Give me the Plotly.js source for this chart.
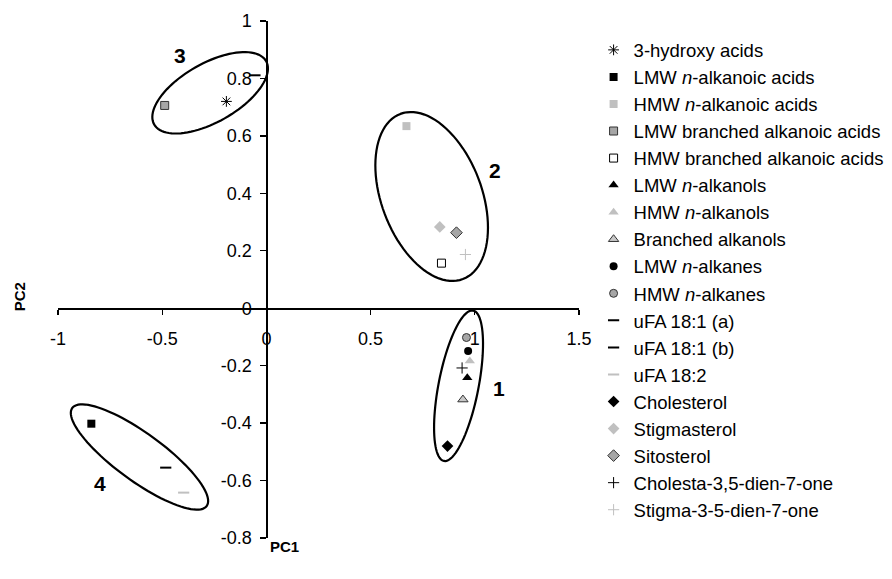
<!DOCTYPE html>
<html>
<head>
<meta charset="utf-8">
<script src="https://cdn.plot.ly/plotly-3.0.1.min.js"></script>
<style>html,body{margin:0;padding:0;background:#fff;}#chart{width:892px;height:579px;}</style>
</head>
<body>
<div id="chart"></div>
<script>
// ---- data ----
const seriesNames = [
  "3-hydroxy acids",
  "LMW <i>n</i>-alkanoic acids",
  "HMW <i>n</i>-alkanoic acids",
  "LMW branched alkanoic acids",
  "HMW branched alkanoic acids",
  "LMW <i>n</i>-alkanols",
  "HMW <i>n</i>-alkanols",
  "Branched alkanols",
  "LMW <i>n</i>-alkanes",
  "HMW <i>n</i>-alkanes",
  "uFA 18:1 (a)",
  "uFA 18:1 (b)",
  "uFA 18:2",
  "Cholesterol",
  "Stigmasterol",
  "Sitosterol",
  "Cholesta-3,5-dien-7-one",
  "Stigma-3-5-dien-7-one"
];
const pc1 = [-0.192, -0.840, 0.672, -0.488, 0.840, 0.964, 0.976, 0.943, 0.968, 0.960, -0.055, -0.483, -0.397, 0.869, 0.832, 0.912, 0.939, 0.955];
const pc2 = [0.720, -0.402, 0.634, 0.706, 0.157, -0.242, -0.184, -0.318, -0.149, -0.102, 0.811, -0.555, -0.642, -0.480, 0.283, 0.263, -0.208, 0.187];

const xTickVals = [-1, -0.5, 0, 0.5, 1, 1.5];
const xTickText = ["-1", "-0.5", "0", "0.5", "1", "1.5"];
const yTickVals = [-0.8, -0.6, -0.4, -0.2, 0, 0.2, 0.4, 0.6, 0.8, 1];
const yTickText = ["-0.8", "-0.6", "-0.4", "-0.2", "0", "0.2", "0.4", "0.6", "0.8", "1"];

const clusterLabels = ["1", "2", "3", "4"];
const clusterLabelX = [1.115, 1.096, -0.416, -0.797];
const clusterLabelY = [-0.279, 0.480, 0.881, -0.611];

// ---- styles ----
const BLACK = "#000000", LIGHT = "#c0c0c0", MID = "#a6a6a6";
const styles = [
  {symbol: "asterisk-open", color: BLACK, line: BLACK, lw: 1, size: 9},
  {symbol: "square", color: BLACK, line: BLACK, lw: 0, size: 8},
  {symbol: "square", color: LIGHT, line: LIGHT, lw: 0, size: 8},
  {symbol: "square", color: MID, line: "#333", lw: 1, size: 8},
  {symbol: "square", color: "#ffffff", line: BLACK, lw: 1, size: 8},
  {symbol: "triangle-up", color: BLACK, line: BLACK, lw: 0, size: 9},
  {symbol: "triangle-up", color: LIGHT, line: LIGHT, lw: 0, size: 9},
  {symbol: "triangle-up", color: "#c8c8c8", line: "#333", lw: 1, size: 9},
  {symbol: "circle", color: BLACK, line: BLACK, lw: 0, size: 8},
  {symbol: "circle", color: MID, line: "#333", lw: 1, size: 8},
  {symbol: "line-ew-open", color: BLACK, line: BLACK, lw: 2, size: 8},
  {symbol: "line-ew-open", color: BLACK, line: BLACK, lw: 2, size: 8},
  {symbol: "line-ew-open", color: LIGHT, line: LIGHT, lw: 2, size: 8},
  {symbol: "diamond", color: BLACK, line: BLACK, lw: 0, size: 9},
  {symbol: "diamond", color: LIGHT, line: LIGHT, lw: 0, size: 9},
  {symbol: "diamond", color: MID, line: "#333", lw: 1, size: 9},
  {symbol: "cross-thin-open", color: BLACK, line: BLACK, lw: 1, size: 8},
  {symbol: "cross-thin-open", color: LIGHT, line: LIGHT, lw: 1, size: 8}
];

const traces = seriesNames.map((name, i) => ({
  type: "scatter", mode: "markers",
  x: [pc1[i]], y: [pc2[i]], name: name,
  legendgroup: "g" + i,
  marker: {symbol: styles[i].symbol, color: styles[i].color, size: styles[i].size,
           line: {color: styles[i].line, width: styles[i].lw}},
  hoverinfo: "name"
}));

// ---- layout geometry ----
const W = 892, H = 579;
const M = {l: 58, r: 313, t: 21, b: 41, autoexpand: false};
const xRange = [-1, 1.5], yRange = [-0.8, 1];
const pxPerX = (W - M.l - M.r) / (xRange[1] - xRange[0]);
const pxPerY = (H - M.t - M.b) / (yRange[1] - yRange[0]);

// ellipses: centre in data units, semi-axes in screen pixels, angle in degrees (screen, ccw)
const ellipses = [
  {cx: 0.922, cy: -0.270, a: 76.6, b: 20.0, ang: 79},
  {cx: 0.793, cy: 0.389, a: 88.3, b: 50.1, ang: 110.7},
  {cx: -0.270, cy: 0.750, a: 64.3, b: 29.4, ang: 29.5},
  {cx: -0.609, cy: -0.518, a: 83.2, b: 23.8, ang: -36.1}
];
function ellipsePath(e) {
  const th = e.ang * Math.PI / 180, n = 96;
  let p = "";
  for (let k = 0; k <= n; k++) {
    const t = 2 * Math.PI * k / n;
    const u = e.a * Math.cos(t), v = e.b * Math.sin(t);
    const dx = u * Math.cos(th) - v * Math.sin(th);
    const dy = u * Math.sin(th) + v * Math.cos(th);
    const x = e.cx + dx / pxPerX, y = e.cy + dy / pxPerY;
    p += (k === 0 ? "M" : "L") + x.toFixed(5) + "," + y.toFixed(5);
  }
  return p + "Z";
}
const shapes = ellipses.map(e => ({
  type: "path", xref: "x", yref: "y", path: ellipsePath(e),
  line: {color: BLACK, width: 2.2}, fillcolor: "rgba(0,0,0,0)"
}));

const annotations = clusterLabels.map((t, i) => ({
  x: clusterLabelX[i], y: clusterLabelY[i], xref: "x", yref: "y",
  text: "<b>" + t + "</b>", showarrow: false,
  font: {size: 21, color: BLACK, family: "Liberation Sans, Arial, sans-serif"}
}));
annotations.push({x: 0.435, y: -0.016, xref: "paper", yref: "paper", text: "<b>PC1</b>",
  showarrow: false, font: {size: 15, color: BLACK}, yanchor: "middle"});
annotations.push({x: -0.075, y: 0.4675, xref: "paper", yref: "paper", text: "<b>PC2</b>",
  showarrow: false, textangle: -90, font: {size: 15, color: BLACK}, xanchor: "center"});

const layout = {
  width: W, height: H,
  margin: M,
  paper_bgcolor: "#ffffff", plot_bgcolor: "#ffffff",
  font: {family: "Liberation Sans, Arial, sans-serif", color: BLACK, size: 18},
  showlegend: true,
  legend: {x: 1.028, xanchor: "left", y: 0.98, yanchor: "top",
           font: {size: 18.5, color: BLACK}, tracegroupgap: 0, bgcolor: "rgba(0,0,0,0)"},
  xaxis: {range: xRange, anchor: "free", position: (0 - yRange[0]) / (yRange[1] - yRange[0]),
          tickvals: xTickVals, ticktext: xTickText, ticks: "outside", ticklen: 5, tickwidth: 1.3,
          tickcolor: BLACK, showline: true, linecolor: BLACK, linewidth: 1.3,
          showgrid: false, zeroline: false, ticklabelstandoff: 9,
          tickfont: {size: 18}},
  yaxis: {range: yRange, anchor: "free", position: (0 - xRange[0]) / (xRange[1] - xRange[0]),
          tickvals: yTickVals, ticktext: yTickText, ticks: "outside", ticklen: 6, tickwidth: 1.3,
          tickcolor: BLACK, showline: true, linecolor: BLACK, linewidth: 1.3,
          showgrid: false, zeroline: false, ticklabelstandoff: 5,
          tickfont: {size: 18}},
  shapes: shapes,
  annotations: annotations
};

Plotly.newPlot("chart", traces, layout, {staticPlot: true, displayModeBar: false});
</script>
</body>
</html>
